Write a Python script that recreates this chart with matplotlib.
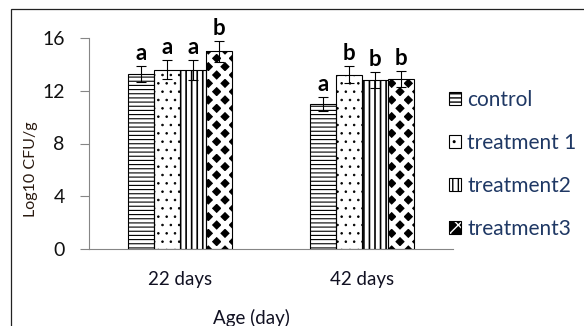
import matplotlib
matplotlib.use("Agg")
import matplotlib.pyplot as plt
import numpy as np
from matplotlib.patches import Patch, Rectangle

plt.rcParams['font.family'] = ['Lato', 'DejaVu Sans']

ages = ['22 days', '42 days']
groups = ['control', 'treatment 1', 'treatment2', 'treatment3']
means = {
    'control':     [13.3, 11.0],
    'treatment 1': [13.6, 13.2],
    'treatment2':  [13.6, 12.8],
    'treatment3':  [15.0, 12.9],
}
errs = {
    'control':     [0.6, 0.55],
    'treatment 1': [0.7, 0.65],
    'treatment2':  [0.75, 0.6],
    'treatment3':  [0.8, 0.6],
}
letters = {
    'control':     ['a', 'a'],
    'treatment 1': ['a', 'b'],
    'treatment2':  ['a', 'b'],
    'treatment3':  ['b', 'b'],
}

# hatch style per group: (hatch, facecolor, hatchcolor, hatch linewidth)
styles = {
    'control':     ('----', 'white', 'black', 0.8),
    'treatment 1': ('..', 'white', 'black', 0.6),
    'treatment2':  ('|||', 'white', 'black', 1.2),
    'treatment3':  ('xx', 'black', 'white', 3.6),
}

fig = plt.figure(figsize=(5.84, 3.26), dpi=100)
ax = fig.add_axes([89/584, 1-249/326, 364/584, 211/326])

x = np.arange(len(ages))
w = 0.142
handles = []
for i, g in enumerate(groups):
    pos = x + (i - 1.5) * w
    h, fc, hc, hlw = styles[g]
    with plt.rc_context({'hatch.linewidth': hlw}):
        bars = ax.bar(pos, means[g], w, color=fc, edgecolor=hc, linewidth=0,
                      hatch=h, zorder=2)
    for b in bars:
        if hasattr(b, 'set_hatch_linewidth'):
            b.set_hatch_linewidth(hlw)
    ax.bar(pos, means[g], w, facecolor='none', edgecolor='black',
           linewidth=0.8, zorder=3)
    ax.errorbar(pos, means[g], yerr=errs[g], fmt='none', ecolor='black',
                elinewidth=0.8, capsize=3.6, capthick=0.8, zorder=4)
    for p, m, e, l in zip(pos, means[g], errs[g], letters[g]):
        ax.annotate(l, (p, m + e), xytext=(0, 1.5), textcoords='offset points',
                    ha='center', va='bottom', fontsize=16, fontweight='bold',
                    color='black')
    with plt.rc_context({'hatch.linewidth': hlw}):
        fill = Patch(facecolor=fc, edgecolor=hc, linewidth=0, hatch=h)
    if hasattr(fill, 'set_hatch_linewidth'):
        fill.set_hatch_linewidth(hlw)
    outline = Patch(facecolor='none', edgecolor='black', linewidth=0.8)
    handles.append((fill, outline))

ax.set_xlim(-0.5, 1.5)
ax.set_ylim(0, 16)
ax.set_yticks([0, 4, 8, 12, 16])
ax.set_xticks(x)
ax.set_xticklabels(ages)
for s in ['top', 'right']:
    ax.spines[s].set_visible(False)
for s in ['left', 'bottom']:
    ax.spines[s].set_color('#868686')
    ax.spines[s].set_linewidth(0.8)
ax.tick_params(axis='y', length=6.5, width=0.8, color='#868686',
               labelsize=14, labelcolor='#111111', pad=11)
ax.tick_params(axis='x', length=0, labelsize=13.5, labelcolor='#111122', pad=16)

ax.set_ylabel('Log10 CFU/g', fontsize=11.5, color='#2a1a10')
ax.yaxis.set_label_coords(-0.14, 0.38)

fig.text(251/584, 2/326, 'Age (day)', ha='center', va='baseline',
         fontsize=13.5, color='#111122')

leg = fig.legend(handles, groups, loc='center left',
                 bbox_to_anchor=(449/584, 1-164.5/326), frameon=False,
                 fontsize=15, handlelength=0.58, handleheight=0.58,
                 handletextpad=0.3, labelspacing=1.1, borderpad=0,
                 borderaxespad=0)
for t in leg.get_texts():
    t.set_color('#1f3864')

# chart area border (only top and left visible in the crop)
fig.patches.append(Rectangle((11/584, -0.1), 1.2, 1-9/326+0.1,
                             transform=fig.transFigure, fill=False,
                             edgecolor='#222222', linewidth=0.9))

fig.savefig('out.png', dpi=100)
